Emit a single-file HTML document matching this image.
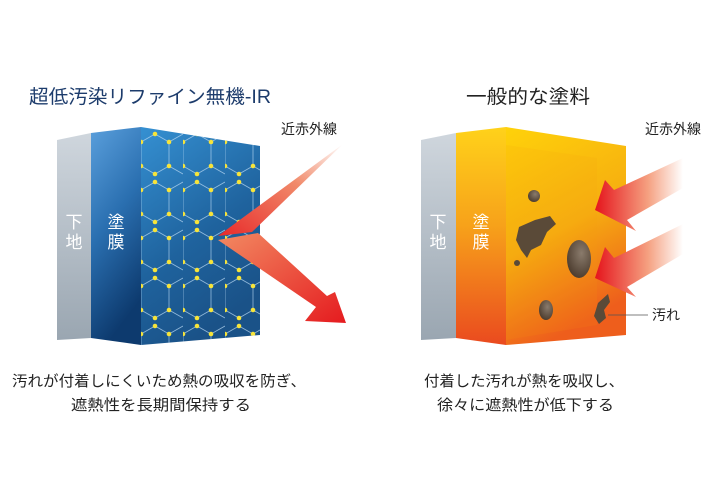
<!DOCTYPE html>
<html><head><meta charset="utf-8"><style>
html,body{margin:0;padding:0;background:#fff;}
svg{display:block;}
text{font-family:"Liberation Sans","Noto Sans CJK JP",sans-serif;}
</style></head><body>
<svg width="720" height="500" viewBox="0 0 720 500" xmlns="http://www.w3.org/2000/svg">
<defs>
<linearGradient id="gray" x1="0" y1="0" x2="0" y2="1"><stop offset="0" stop-color="#cfd6dd"/><stop offset="1" stop-color="#9aa6b1"/></linearGradient>
<linearGradient id="bfront" x1="0" y1="0" x2="0.3" y2="1"><stop offset="0" stop-color="#5a9fdc"/><stop offset="0.5" stop-color="#2a6fb0"/><stop offset="1" stop-color="#0d3a6e"/></linearGradient>
<linearGradient id="bside" x1="0" y1="0" x2="0.4" y2="1"><stop offset="0" stop-color="#3590d2"/><stop offset="0.6" stop-color="#1f639e"/><stop offset="1" stop-color="#1a5288"/></linearGradient>
<linearGradient id="ofront" x1="0" y1="0" x2="0" y2="1"><stop offset="0" stop-color="#ffd21a"/><stop offset="0.45" stop-color="#f7a21a"/><stop offset="1" stop-color="#ea4a1f"/></linearGradient>
<linearGradient id="oside" x1="0" y1="0" x2="0.3" y2="1"><stop offset="0" stop-color="#ffd20a"/><stop offset="0.55" stop-color="#f6ae10"/><stop offset="1" stop-color="#ee5e1c"/></linearGradient>
<linearGradient id="arr1" x1="1" y1="0" x2="0" y2="1"><stop offset="0" stop-color="#ffffff"/><stop offset="0.4" stop-color="#f18a6a"/><stop offset="1" stop-color="#e72a2a"/></linearGradient>
<linearGradient id="arr2" x1="0" y1="0" x2="1" y2="1"><stop offset="0" stop-color="#f28a62"/><stop offset="1" stop-color="#e51b1f"/></linearGradient>
<linearGradient id="arr3" x1="1" y1="0" x2="0" y2="0"><stop offset="0" stop-color="#ffffff"/><stop offset="0.4" stop-color="#f5a080"/><stop offset="1" stop-color="#e5141c"/></linearGradient>
<radialGradient id="dirt" cx="0.6" cy="0.35" r="0.7"><stop offset="0" stop-color="#8a7b6c"/><stop offset="1" stop-color="#4a3a2c"/></radialGradient>
<pattern id="hex" x="141" y="130" width="42" height="48" patternUnits="userSpaceOnUse">
<path d="M0 12 L14 4 L28 12 L28 36 L14 44 L0 36 Z M28 12 L42 4 M28 36 L42 44" fill="none" stroke="#b8d8f2" stroke-width="0.8" opacity="0.75"/>
<circle cx="0" cy="12" r="2.3" fill="#f7e43a"/><circle cx="14" cy="4" r="2.3" fill="#f7e43a"/><circle cx="28" cy="12" r="2.3" fill="#f7e43a"/><circle cx="28" cy="36" r="2.3" fill="#f7e43a"/><circle cx="14" cy="44" r="2.3" fill="#f7e43a"/><circle cx="0" cy="36" r="2.3" fill="#f7e43a"/>
</pattern>
</defs>

<text x="150" y="103" text-anchor="middle" font-size="19" fill="#1d3c6c" textLength="242" lengthAdjust="spacingAndGlyphs">超低汚染リファイン無機-IR</text>
<text x="528" y="103" text-anchor="middle" font-size="19" fill="#222" textLength="124" lengthAdjust="spacingAndGlyphs">一般的な塗料</text>

<!-- left box -->
<polygon points="57,140 91,133 91,338 57,340" fill="url(#gray)"/>
<polygon points="91,133 141,127 141,345 91,338" fill="url(#bfront)"/>
<polygon points="141,127 260,146 260,335 141,345" fill="url(#bside)"/>
<polygon points="141,127 260,146 260,335 141,345" fill="url(#hex)"/>
<text x="74" y="228" text-anchor="middle" font-size="17" fill="#fff">下</text>
<text x="74" y="248" text-anchor="middle" font-size="17" fill="#fff">地</text>
<text x="116" y="228" text-anchor="middle" font-size="17" fill="#fff">塗</text>
<text x="116" y="248" text-anchor="middle" font-size="17" fill="#fff">膜</text>
<polygon points="343,144 218,236 252,232" fill="url(#arr1)"/>
<polygon points="218,240 258,233 327,296 335,292 346,323 305,321 316,307" fill="url(#arr2)"/>
<text x="309" y="134" text-anchor="middle" font-size="14" fill="#222">近赤外線</text>

<!-- right box -->
<polygon points="421,140 456,133 456,338 421,340" fill="url(#gray)"/>
<polygon points="456,133 506,127 506,345 456,338" fill="url(#ofront)"/>
<polygon points="506,127 626,146 626,335 506,345" fill="url(#oside)"/>
<polygon points="506,145 597,158 597,325 506,340" fill="#f39a10" opacity="0.12"/>
<text x="438" y="228" text-anchor="middle" font-size="17" fill="#fff">下</text>
<text x="438" y="248" text-anchor="middle" font-size="17" fill="#fff">地</text>
<text x="481" y="228" text-anchor="middle" font-size="17" fill="#fff">塗</text>
<text x="481" y="248" text-anchor="middle" font-size="17" fill="#fff">膜</text>
<circle cx="534" cy="196" r="6" fill="url(#dirt)"/>
<path d="M519 227 L535 220 L550 216 L556 224 L547 232 L541 245 L531 250 L527 258 L521 250 L516 240 Z" fill="#5a4a38"/>
<circle cx="517" cy="263" r="3" fill="#5a4a38"/>
<ellipse cx="579" cy="259" rx="12" ry="19" fill="url(#dirt)"/>
<ellipse cx="546" cy="310" rx="7" ry="10" fill="url(#dirt)"/>
<path d="M598 303 L608 294 L610 302 L604 310 L606 318 L599 324 L594 316 Z" fill="#5a4a38"/>
<line x1="608" y1="315" x2="648" y2="315" stroke="#555" stroke-width="0.8"/>
<text x="652" y="320" font-size="14" fill="#222">汚れ</text>
<polygon points="683,158 683,188 627,220 636,231 595,210 605,180 614,190" fill="url(#arr3)"/>
<polygon points="683,224 683,254 627,287 636,297 595,278 605,247 614,258" fill="url(#arr3)"/>
<text x="673" y="134" text-anchor="middle" font-size="14" fill="#222">近赤外線</text>

<!-- captions -->
<text x="12" y="386" font-size="15" fill="#222" textLength="294" lengthAdjust="spacingAndGlyphs">汚れが付着しにくいため熱の吸収を防ぎ、</text>
<text x="71" y="410" font-size="15" fill="#222" textLength="180" lengthAdjust="spacingAndGlyphs">遮熱性を長期間保持する</text>
<text x="424" y="386" font-size="15" fill="#222" textLength="200" lengthAdjust="spacingAndGlyphs">付着した汚れが熱を吸収し、</text>
<text x="437" y="410" font-size="15" fill="#222" textLength="177" lengthAdjust="spacingAndGlyphs">徐々に遮熱性が低下する</text>
</svg>
</body></html>
